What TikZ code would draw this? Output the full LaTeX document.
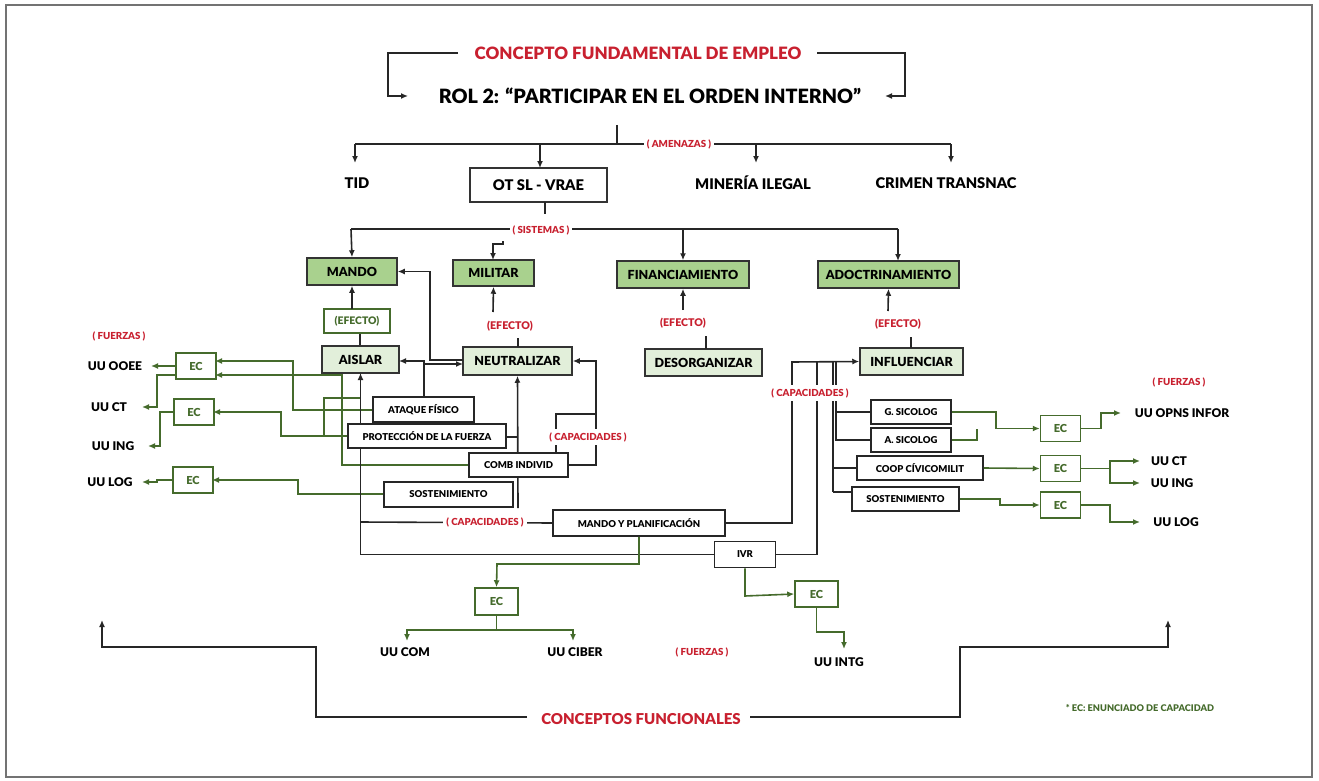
\documentclass[tikz,border=0pt]{standalone}
\usepackage{fontspec}
\setmainfont{Lato}[BoldFont={Lato Black}]
\usetikzlibrary{arrows.meta}
\definecolor{rojo}{HTML}{C8202F}
\definecolor{verdeosc}{HTML}{A9D18E}
\definecolor{verdecla}{HTML}{E2EFDA}
\definecolor{verdelin}{HTML}{456B2C}
\newcommand{\fs}[1]{\fontsize{#1}{#1}\selectfont\bfseries}
\tikzset{
  blk/.style={line width=1.6pt, draw=black!85},
  arr/.style={blk, -{Latex[length=7pt,width=6pt]}},
  gln/.style={line width=1.6pt, draw=verdelin},
  garr/.style={gln, -{Latex[length=7pt,width=6pt]}},
  bigbox/.style={draw=black!80, line width=1.5pt, fill=verdeosc, inner sep=0pt, font=\fs{12.5}},
  midbox/.style={draw=black!80, line width=1.5pt, fill=verdecla, inner sep=0pt, font=\fs{12.5}},
  capbox/.style={draw=black!85, line width=1.5pt, fill=white, inner sep=0pt, font=\fs{9.5}},
  ecbox/.style={draw=verdelin, line width=1.5pt, fill=white, inner sep=0pt, text=verdelin, font=\fs{11}, minimum width=40, minimum height=26},
  redlab/.style={text=rojo, fill=white, inner sep=3pt, font=\fs{9.7}},
  uulab/.style={font=\fs{12}, inner sep=1pt},
  threat/.style={font=\fs{14.7}, inner sep=1pt},
  efred/.style={text=rojo, font=\fs{10.6}, inner sep=1pt},
}
\begin{document}
\begin{tikzpicture}[x=1pt,y=-1pt]
\useasboundingbox (0,0) rectangle (1319,781);
\draw[line width=1.5pt, draw=black!55] (6,5) rectangle (1312,777);

% ---- title ----
\node[text=rojo, font=\fs{17}, inner sep=0pt] (cfe) at (638,53) {CONCEPTO FUNDAMENTAL DE EMPLEO};
\node[font=\fs{19.7}, inner sep=0pt] (rol) at (650,96) {ROL 2: “PARTICIPAR EN EL ORDEN INTERNO”};
\coordinate (cfeL) at (458,53);
\coordinate (cfeR) at (817,53);
\draw[arr, line width=1.3pt] (cfeL) -- (388,53) -- (388,96) -- (408,96);
\draw[arr, line width=1.3pt] (cfeR) -- (905,53) -- (905,96) -- (885,96);

% ---- threats ----
\coordinate (rolB) at (617,125);
\draw[blk] (rolB) -- (617,144);
\draw[blk] (355,144) -- (951,144);
\node[redlab] (amen) at (679,144) {( AMENAZAS )};
\node[threat] (tid) at (357,183) {TID};
\node[draw=black!80, line width=1.5pt, inner sep=0pt, minimum width=137, minimum height=34, font=\fs{14.7}] (ots) at (538.5,185) {OT SL - VRAE};
\node[threat] (min) at (753,183) {MINERÍA ILEGAL};
\node[threat] (cri) at (946,183) {CRIMEN TRANSNAC};
\draw[arr] (355,144) -- (355,163);
\draw[arr] (540,144) -- (540,168);
\draw[arr] (756,144) -- (756,163);
\draw[arr] (951,144) -- (951,163);

% ---- sistemas ----
\draw[blk] (545,202) -- (545,214);
\draw[blk] (351,229) -- (898,229);
\node[redlab] (sis) at (541,230) {( SISTEMAS )};
\node[bigbox, minimum width=90, minimum height=27] (mando) at (352,271.5) {MANDO};
\node[bigbox, minimum width=81, minimum height=26] (mil) at (493.5,273) {MILITAR};
\node[bigbox, minimum width=132, minimum height=27] (fin) at (683,274.5) {FINANCIAMIENTO};
\node[bigbox, minimum width=141, minimum height=27] (adoc) at (888.5,274.5) {ADOCTRINAMIENTO};
\draw[arr] (351,229) -- (mando.north);
\draw[arr] (503,241) -- (503,244) -- (493,244) -- (493,260);
\draw[arr] (683,229) -- (fin.north);
\draw[arr] (898,229) -- (898,261);

% ---- effects ----
\node[midbox, minimum width=77, minimum height=27] (ais) at (360.5,359.5) {AISLAR};
\node[midbox, minimum width=109, minimum height=28] (neu) at (517.5,361) {NEUTRALIZAR};
\node[midbox, minimum width=117, minimum height=27] (des) at (703.5,362.5) {DESORGANIZAR};
\node[midbox, minimum width=103, minimum height=27] (inf) at (911.5,361.5) {INFLUENCIAR};

\node[draw=verdelin, line width=1.2pt, fill=white, text=verdelin, font=\fs{10.4}, inner sep=0pt, minimum width=66, minimum height=24] (ef1) at (357,321) {(EFECTO)};
\draw[blk] (ais.north -| 360,0) -- (ef1.south -| 360,0);
\draw[arr] (352,309) -- (mando.south);
\node[efred] (ef2) at (510,326) {(EFECTO)};
\draw[blk] (518,347) -- (518,338);
\draw[arr] (493,312) -- (mil.south);
\node[efred] (ef3) at (683,323) {(EFECTO)};
\draw[blk] (706,336) -- (706,349);
\draw[arr] (683,310) -- (fin.south);
\node[efred] (ef4) at (898,324) {(EFECTO)};
\draw[blk] (911,337) -- (911,348);
\draw[arr] (888,311) -- (adoc.south);

% ---- left capacities: lines ----
\draw[arr] (463,360) -- (430,360) -- (430,271.5) -- (mando.east);
\draw[arr] (424,397) -- (424,361) -- (399,361);
\draw[arr] (424,364) -- (463,364);
\draw[arr] (518,508) -- (neu.south);
\draw[blk] (507,437) -- (518,437);
\draw[arr] (569,465) -- (596,465) -- (596,361) -- (neu.east);
\draw[blk] (556,453) -- (556,414) -- (596,414);

% green to EC left
\draw[gln] (324,436) -- (324,398) -- (360,398);
\draw[garr] (373,410) -- (293,410) -- (293,361) -- (215,361);
\draw[garr] (469,465) -- (342,465) -- (342,375) -- (215,375);
\draw[garr] (348,436) -- (281,436) -- (281,412) -- (213,412);
\draw[garr] (384,494) -- (298,494) -- (298,480) -- (212,480);

% black trunk to AISLAR
\node[capbox, minimum width=61, minimum height=26] (ivr) at (745,554.5) {IVR};
\draw[arr] (ivr.west) -| (360.5,373);
\node[capbox, minimum width=172, minimum height=26] (myp) at (639,523) {MANDO Y PLANIFICACIÓN};
\draw[blk] (360,522) -- (myp.west);
\node[redlab] (cap1) at (485,522) {( CAPACIDADES )};

\node[capbox, minimum width=101, minimum height=25] (ata) at (423.5,409.5) {ATAQUE FÍSICO};
\node[capbox, minimum width=158, minimum height=24] (pro) at (427,436) {PROTECCIÓN DE LA FUERZA};
\node[capbox, minimum width=99, minimum height=24] (com) at (518.5,465) {COMB INDIVID};
\node[capbox, minimum width=129, minimum height=25] (sol) at (448.5,494.5) {SOSTENIMIENTO};
\node[redlab] (cap2) at (588,437) {( CAPACIDADES )};

% left EC
\node[ecbox] (el1) at (196,366) {EC};
\node[ecbox] (el2) at (194,412) {EC};
\node[ecbox] (el3) at (193,480) {EC};
\node[text=rojo, font=\fs{9.7}] (fz1) at (119,336) {( FUERZAS )};
\node[uulab] (ooee) at (115,366) {UU OOEE};
\node[uulab] (uct1) at (109,407) {UU CT};
\node[uulab] (uing1) at (113,446) {UU ING};
\node[uulab] (ulog1) at (110,482) {UU LOG};
\draw[garr] (el1.west) -- (151,366);
\draw[garr] (176,375) -- (157,375) -- (157,407) -- (142,407);
\draw[garr] (el2.west) -- (160,412) -- (160,446) -- (148,446);
\draw[garr] (el3.west) -- (157,480) -- (157,482) -- (142,482);

% ---- right capacities ----
\draw[arr] (myp.east) -- (792,523) -- (792,362) -- (inf.west);
\draw[blk] (ivr.east) -| (817,362);
\draw[blk] (836,362) -- (836,441);
\draw[blk] (833,362) -- (833,492);
\node[capbox, minimum width=80, minimum height=24] (gs) at (911,412) {G. SICOLOG};
\node[capbox, minimum width=80, minimum height=24] (as) at (911,440) {A. SICOLOG};
\node[capbox, minimum width=126, minimum height=24] (coo) at (920,468) {COOP CÍVICOMILIT};
\node[capbox, minimum width=107, minimum height=24] (sor) at (905.5,499) {SOSTENIMIENTO};
\draw[blk] (836,412) -- (gs.west);
\draw[blk] (836,440) -- (as.west);
\draw[blk] (833,468) -- (coo.west);
\draw[blk] (833,492) -- (852,492);
\node[redlab] (cap3) at (810,393) {( CAPACIDADES )};

\node[ecbox] (er1) at (1060.5,428.5) {EC};
\node[ecbox] (er2) at (1060.5,468.5) {EC};
\node[ecbox] (er3) at (1060.5,505) {EC};
\draw[garr] (gs.east) -- (996,412) -- (996,428.5) -- (er1.west);
\draw[gln] (as.east) -- (977,440) -- (977,428.5);
\draw[garr] (er1.east) -- (1101,428.5) -- (1101,413) -- (1121,413);
\draw[garr] (coo.east) -- (er2.west);
\draw[garr] (er2.east) -- (1110,468.5) -- (1110,461) -- (1140,461);
\draw[garr] (1110,468.5) -- (1110,483) -- (1140,483);
\draw[garr] (sor.east) -- (1000,499) -- (1000,505) -- (er3.west);
\draw[garr] (er3.east) -- (1110,505) -- (1110,522) -- (1140,522);
\node[text=rojo, font=\fs{9.7}] (fz2) at (1179,382) {( FUERZAS )};
\node[uulab] (opns) at (1182,413) {UU OPNS INFOR};
\node[uulab] (uct2) at (1169,461) {UU CT};
\node[uulab] (uing2) at (1172,483) {UU ING};
\node[uulab] (ulog2) at (1176,522) {UU LOG};

% ---- bottom EC ----
\node[ecbox, minimum width=43, minimum height=27] (em) at (496.5,601.5) {EC};
\node[ecbox, minimum width=43, minimum height=26] (ei) at (816.5,594) {EC};
\draw[garr] (myp.south) -- (639,564) -- (497,564) -- (em.north);
\draw[gln] (em.south) -- (496.5,630);
\draw[garr] (496.5,630) -- (407,630) -- (407,641);
\draw[garr] (496.5,630) -- (573,630) -- (573,641);
\draw[garr] (ivr.south) -- (745,596) -- (ei.west);
\draw[garr] (ei.south) -- (816.5,632) -- (844,632) -- (844,649);
\node[uulab] (ucom) at (405,652) {UU COM};
\node[uulab] (ucib) at (575,652) {UU CIBER};
\node[text=rojo, font=\fs{9.7}] (fz3) at (702,652) {( FUERZAS )};
\node[uulab] (uintg) at (839,662) {UU INTG};

% ---- conceptos funcionales ----
\node[text=rojo, font=\fs{15}, inner sep=0pt] (cfu) at (641,719) {CONCEPTOS FUNCIONALES};
\coordinate (cfuL) at (527,717);
\coordinate (cfuR) at (750,717);
\draw[arr, line width=1.3pt] (cfuL) -- (316,717) -- (316,647) -- (102,647) -- (102,620);
\draw[arr, line width=1.3pt] (cfuR) -- (960,717) -- (960,647) -- (1168,647) -- (1168,620);
\node[text=verdelin, font=\fs{9.2}] (nota) at (1140,708) {* EC: ENUNCIADO DE CAPACIDAD};
\end{tikzpicture}
\end{document}
